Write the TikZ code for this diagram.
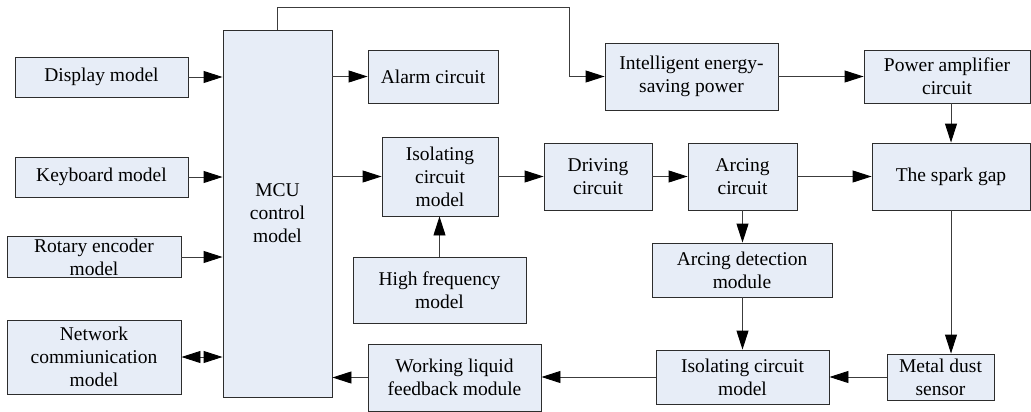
\documentclass[tikz,border=0pt]{standalone}
\usepackage{fontspec}
\setmainfont{Liberation Serif}
\newfontfamily\diagfont{Liberation Serif}
\usetikzlibrary{arrows.meta}

\definecolor{boxfill}{RGB}{231,237,247}
\definecolor{boxline}{RGB}{45,45,45}
\definecolor{wire}{RGB}{60,60,60}

\tikzset{
  block/.style={draw=boxline, fill=boxfill, line width=0.9pt, inner sep=2pt, align=center,
    font=\diagfont\fontsize{19.5}{23}\selectfont},
  link/.style={draw=wire, line width=0.9pt, -{Triangle[length=19pt,width=12pt,fill=black,color=black]}},
  duplex/.style={draw=wire, line width=0.9pt,
    {Triangle[length=19pt,width=12pt,fill=black,color=black]}-{Triangle[length=19pt,width=12pt,fill=black,color=black]}}
}

\begin{document}
\begin{tikzpicture}[x=1pt,y=-1pt]
      % Bounding box
      \path (0,0) rectangle (1031,412);

      % left column
      \draw (101.5,77) node[block, minimum width=173pt, minimum height=40pt] (disp) {Display model};
      \draw (101.5,177) node[block, minimum width=173pt, minimum height=40pt] (keyb) {Keyboard model};
      \draw (94,257) node[block, minimum width=174pt, minimum height=40pt] (rotary) {Rotary encoder\\model};
      \draw (94,357) node[block, minimum width=174pt, minimum height=74pt] (net) {Network\\commiunication\\model};

      \draw (277.5,213.5) node[block, minimum width=109pt, minimum height=367pt] (mcu) {MCU\\control\\model};

      % middle
      \draw (433,76.5) node[block, minimum width=130pt, minimum height=53pt] (alarm) {Alarm circuit};
      \draw (440,176.5) node[block, minimum width=116pt, minimum height=79pt] (iso1) {Isolating\\circuit\\model};
      \draw (439.5,290) node[block, minimum width=173pt, minimum height=66pt] (hf) {High frequency\\model};
      \draw (454.5,377.5) node[block, minimum width=173pt, minimum height=67pt] (work) {Working liquid\\feedback module};

      \draw (691.5,76.5) node[block, minimum width=173pt, minimum height=67pt] (intel) {Intelligent energy-\\saving power};
      \draw (598,176.5) node[block, minimum width=108pt, minimum height=67pt] (drive) {Driving\\circuit};
      \draw (742.5,176.5) node[block, minimum width=109pt, minimum height=67pt] (arc) {Arcing\\circuit};
      \draw (742,270) node[block, minimum width=180pt, minimum height=54pt] (arcdet) {Arcing detection\\module};
      \draw (742.5,377) node[block, minimum width=173pt, minimum height=54pt] (iso2) {Isolating circuit\\model};

      % right column
      \draw (947,76.5) node[block, minimum width=166pt, minimum height=53pt] (pamp) {Power amplifier\\circuit};
      \draw (951,176.5) node[block, minimum width=158pt, minimum height=67pt] (spark) {The spark gap};
      \draw (940.5,377) node[block, minimum width=107pt, minimum height=46pt] (metal) {Metal dust\\sensor};

      \coordinate (bend) at (569,7);

      \draw [link] (disp) -- (disp -| mcu.west);
      \draw [link] (keyb) -- (keyb -| mcu.west);
      \draw [link] (rotary) -- (rotary -| mcu.west);
      \draw [duplex] (net) -- (net -| mcu.west);
      \draw [link] (mcu.east |- alarm) -- (alarm);
      \draw [link] (mcu.east |- iso1) -- (iso1);
      \draw [link] (mcu.north) |- (bend) |- (intel.west);
      \draw [link] (iso1) -- (drive);
      \draw [link] (drive) -- (arc);
      \draw [link] (arc) -- (arc -| spark.west);
      \draw [link] (hf) -- (hf |- iso1.south);
      \draw [link] (intel) -- (intel -| pamp.west);
      \draw [link] (spark.north |- pamp.south) -- (spark.north);
      \draw [link] (arc) -- (arc |- arcdet.north);
      \draw [link] (arcdet.south -| arc) -- (iso2.north -| arc);
      \draw [link] (spark.south) -- (spark.south |- metal.north);
      \draw [link] (metal) -- (iso2);
      \draw [link] (iso2) -- (iso2 -| work.east);
      \draw [link] (work) -- (work -| mcu.east);
\end{tikzpicture}
\end{document}
